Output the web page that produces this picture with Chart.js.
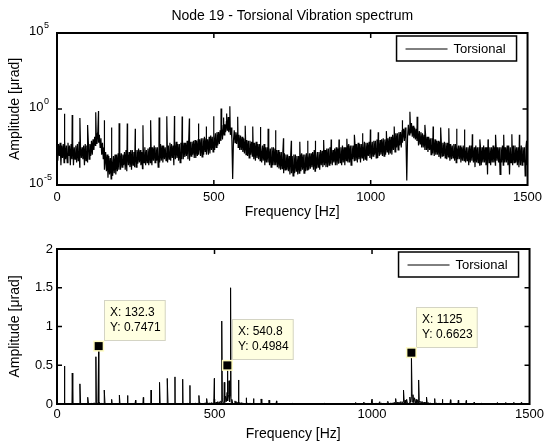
<!DOCTYPE html>
<html>
<head>
<meta charset="utf-8">
<script src="https://cdn.jsdelivr.net/npm/chart.js@4.4.0/dist/chart.umd.min.js"></script>
<style>
  html, body { margin: 0; padding: 0; background: #fff; }
  #wrap { position: relative; width: 547px; height: 446px; overflow: hidden; }
  #wrap canvas { position: absolute; left: 0; }
  #top-chart { top: 0; }
  #bottom-chart { top: 220px; }
</style>
</head>
<body>
<div id="wrap">
  <canvas id="top-chart" width="547" height="220"></canvas>
  <canvas id="bottom-chart" width="547" height="226"></canvas>
</div>
<script>
// --- data ---
const TITLE = 'Node 19 - Torsional Vibration spectrum';
const SERIES_LABEL = 'Torsional';

// broadband floor, one value every 2.5 Hz from 0 to 1500 Hz (amplitude in µrad)
const FLOOR_STEP_HZ = 2.5;
const floorAmp = [
  // 0
  3e-3, 4e-4, 5e-3, 8e-4, 6e-3, 2e-4, 4e-3, 6e-4, 5e-3, 3e-4, 8e-3, 5e-4, 4e-3, 3e-4, 6e-3, 8e-4, 4e-3, 2e-4, 5e-3, 5e-4,
  // 50
  6e-3, 2e-4, 3e-3, 5e-4, 4e-3, 3e-4, 5e-3, 4e-4, 7e-3, 1.5e-4, 3e-3, 6e-4, 3e-3, 5e-4, 4e-3, 2e-4, 5e-3, 4e-4, 4e-3, 3e-4,
  // 100
  6e-3, 5e-4, 5e-3, 8e-4, 8e-3, 1e-3, 1e-2, 2e-3, 1.5e-2, 4e-3, 2.5e-2, 5e-3, 3e-2, 6e-3, 2e-2, 3e-3, 1.2e-2, 1e-3, 6e-3, 5e-4,
  // 150
  3e-3, 1e-4, 1.5e-3, 8e-5, 1e-3, 3e-5, 8e-4, 5e-5, 6e-4, 2.5e-5, 8e-4, 4e-5, 8e-4, 6e-5, 1e-3, 5e-5, 1e-3, 8e-5, 1.2e-3, 1e-4,
  // 200
  1.5e-3, 1e-4, 1.2e-3, 1.5e-4, 1e-3, 2e-4, 1.5e-3, 1e-4, 2e-3, 8e-5, 1.2e-3, 2e-4, 1.5e-3, 1.5e-4, 2e-3, 1e-4, 2e-3, 2e-4, 1.5e-3, 1.5e-4,
  // 250
  2e-3, 1.5e-4, 2e-3, 2.5e-4, 2.5e-3, 3e-4, 2e-3, 2e-4, 1.5e-3, 1.2e-4, 2.5e-3, 3e-4, 3e-3, 2e-4, 2e-3, 3e-4, 2.5e-3, 2e-4, 3e-3, 3e-4,
  // 300
  3e-3, 2e-4, 3e-3, 4e-4, 4e-3, 3e-4, 3e-3, 4e-4, 3e-3, 1.5e-4, 4e-3, 3e-4, 5e-3, 4e-4, 4e-3, 3e-4, 4e-3, 5e-4, 3e-3, 4e-4,
  // 350
  5e-3, 3e-4, 4e-3, 5e-4, 6e-3, 4e-4, 5e-3, 6e-4, 4e-3, 2e-4, 6e-3, 5e-4, 7e-3, 6e-4, 5e-3, 4e-4, 5e-3, 3e-4, 6e-3, 5e-4,
  // 400
  8e-3, 5e-4, 6e-3, 7e-4, 6e-3, 8e-4, 8e-3, 5e-4, 1e-2, 4e-4, 7e-3, 8e-4, 7e-3, 1e-3, 8e-3, 6e-4, 9e-3, 6e-4, 8e-3, 8e-4,
  // 450
  1e-2, 1e-3, 1e-2, 8e-4, 1.2e-2, 7e-4, 1.2e-2, 1e-3, 1.5e-2, 1.5e-3, 1.2e-2, 1e-3, 1e-2, 1e-3, 1.5e-2, 1.2e-3, 1.8e-2, 2e-3, 1.5e-2, 1.5e-3,
  // 500
  2e-2, 2e-3, 2.5e-2, 3e-3, 3e-2, 4e-3, 3e-2, 5e-3, 4e-2, 8e-3, 5e-2, 1e-2, 0.08, 0.02, 0.1, 0.03, 0.15, 0.04, 0.12, 0.03,
  // 550
  0.1, 0.02, 0.06, 0.01, 2.5e-5, 8e-3, 4e-2, 6e-3, 3e-2, 5e-3, 2.5e-2, 3e-3, 2e-2, 2e-3, 1.8e-2, 2e-3, 1.5e-2, 1.5e-3, 1.2e-2, 1.2e-3,
  // 600
  1e-2, 1e-3, 9e-3, 8e-4, 8e-3, 6e-4, 8e-3, 1e-3, 7e-3, 8e-4, 6e-3, 5e-4, 6e-3, 4e-4, 7e-3, 6e-4, 5e-3, 5e-4, 5e-3, 4e-4,
  // 650
  4e-3, 3e-4, 4e-3, 4e-4, 5e-3, 2e-4, 3e-3, 3e-4, 3e-3, 3e-4, 3e-3, 2e-4, 2.5e-3, 1.5e-4, 3e-3, 2e-4, 3e-3, 2e-4, 2.5e-3, 2e-4,
  // 700
  2e-3, 1.5e-4, 2e-3, 1.2e-4, 1.5e-3, 1e-4, 1.5e-3, 1.2e-4, 1.5e-3, 6e-5, 1.2e-3, 1e-4, 1e-3, 1e-4, 1e-3, 8e-5, 8e-4, 5e-5, 1e-3, 6e-5,
  // 750
  8e-4, 4e-5, 1e-3, 6e-5, 1e-3, 8e-5, 8e-4, 5e-5, 8e-4, 6e-5, 1e-3, 8e-5, 1.2e-3, 1e-4, 1e-3, 6e-5, 1e-3, 8e-5, 1.2e-3, 1e-4,
  // 800
  1.5e-3, 1e-4, 1.2e-3, 1.2e-4, 1.2e-3, 1.5e-4, 1.5e-3, 1e-4, 2e-3, 8e-5, 1.5e-3, 1.2e-4, 1.5e-3, 1.5e-4, 1.5e-3, 1e-4, 2e-3, 2e-4, 1.8e-3, 1.5e-4,
  // 850
  2e-3, 2e-4, 2e-3, 1.5e-4, 2.5e-3, 1.5e-4, 2.5e-3, 2e-4, 3e-3, 2.5e-4, 2.5e-3, 2e-4, 2e-3, 3e-4, 2.5e-3, 2e-4, 3e-3, 2e-4, 2.5e-3, 2.5e-4,
  // 900
  3e-3, 3e-4, 3e-3, 2e-4, 4e-3, 3e-4, 3e-3, 2e-4, 3e-3, 4e-4, 4e-3, 3e-4, 5e-3, 3e-4, 4e-3, 2e-4, 4e-3, 5e-4, 4e-3, 4e-4,
  // 950
  5e-3, 4e-4, 5e-3, 3e-4, 6e-3, 5e-4, 5e-3, 3e-4, 5e-3, 6e-4, 6e-3, 4e-4, 7e-3, 5e-4, 6e-3, 4e-4, 6e-3, 8e-4, 7e-3, 6e-4,
  // 1000
  7e-3, 5e-4, 7e-3, 8e-4, 8e-3, 1e-3, 8e-3, 6e-4, 1e-2, 6e-4, 8e-3, 8e-4, 9e-3, 1e-3, 1e-2, 8e-4, 1.2e-2, 8e-4, 1e-2, 1e-3,
  // 1050
  1.2e-2, 1.5e-3, 1.2e-2, 1e-3, 1.5e-2, 1.2e-3, 1.5e-2, 1e-3, 2e-2, 2e-3, 2e-2, 1.5e-3, 2.5e-2, 3e-3, 2.5e-2, 2e-3, 3e-2, 4e-3, 3e-2, 3e-3,
  // 1100
  4e-2, 6e-3, 5e-2, 8e-3, 0.06, 1e-2, 2e-5, 1.5e-2, 0.09, 0.02, 0.1, 0.025, 0.12, 0.015, 0.08, 0.012, 0.06, 1e-2, 5e-2, 8e-3,
  // 1150
  4e-2, 4e-3, 3.5e-2, 5e-3, 3e-2, 3e-3, 2.5e-2, 3e-3, 2e-2, 2e-3, 2e-2, 2e-3, 1.5e-2, 1.5e-3, 1.5e-2, 2e-3, 1.2e-2, 1e-3, 1.2e-2, 1.2e-3,
  // 1200
  1e-2, 8e-4, 1e-2, 1e-3, 8e-3, 1e-3, 8e-3, 7e-4, 7e-3, 6e-4, 7e-3, 8e-4, 6e-3, 8e-4, 7e-3, 6e-4, 6e-3, 5e-4, 6e-3, 7e-4,
  // 1250
  5e-3, 4e-4, 5e-3, 5e-4, 4e-3, 6e-4, 5e-3, 4e-4, 5e-3, 3e-4, 4e-3, 5e-4, 4e-3, 5e-4, 4e-3, 3e-4, 3e-3, 4e-4, 4e-3, 4e-4,
  // 1300
  4e-3, 3e-4, 3e-3, 4e-4, 3e-3, 2e-4, 4e-3, 3e-4, 4e-3, 4e-4, 3e-3, 3e-4, 3e-3, 1.5e-4, 4e-3, 3e-4, 3e-3, 3e-4, 3e-3, 2e-4,
  // 1350
  3e-3, 2e-4, 3e-3, 3e-4, 4e-3, 3e-4, 3e-3, 2e-4, 3e-3, 5e-5, 4e-3, 3e-4, 3e-3, 2e-4, 3e-3, 3e-4, 4e-3, 3e-4, 3e-3, 2e-4,
  // 1400
  3e-3, 4e-4, 3e-3, 3e-4, 3e-3, 5e-5, 3e-3, 3e-4, 4e-3, 2e-4, 3e-3, 3e-4, 3e-3, 3e-4, 4e-3, 2e-4, 4e-3, 5e-5, 3e-3, 3e-4,
  // 1450
  3e-3, 2e-4, 4e-3, 3e-4, 4e-3, 3e-4, 3e-3, 2e-4, 3e-3, 1.5e-4, 3e-3, 2e-4, 4e-3, 2e-4, 3e-3, 3e-4, 3e-3, 4e-5, 3e-3, 2e-4,
  // 1500
  3e-3
];

// narrow harmonic lines (Hz, µrad)
const spikeFreq = [23.5, 48.5, 73, 97.5, 123.5, 132.3, 150, 173.5, 198, 224,
  249.5, 274, 298.5, 325.5, 350, 374.5, 399, 422, 450.5, 475,
  499.5, 523, 531, 540.8, 546, 551, 576, 600, 624, 648,
  673, 697, 722, 747, 774, 799, 823, 850, 874, 899,
  924, 948, 974, 999, 1024, 1050, 1075, 1100, 1125, 1148,
  1173, 1199, 1223, 1249, 1274, 1299, 1324, 1348, 1374, 1398,
  1424, 1450, 1474, 1497];
const spikeAmp = [0.49, 0.40, 0.26, 0.087, 0.61, 0.7471, 0.18, 0.06, 0.115, 0.11,
  0.05, 0.085, 0.18, 0.28, 0.33, 0.35, 0.32, 0.24, 0.11, 0.07,
  0.33, 1.07, 0.28, 0.4984, 0.3, 1.5, 0.31, 0.08, 0.07, 0.065,
  0.05, 0.04, 0.012, 0.008, 0.007, 0.008, 0.008, 0.009, 0.01, 0.01,
  0.011, 0.02, 0.025, 0.045, 0.03, 0.035, 0.07, 0.18, 0.6623, 0.31,
  0.09, 0.07, 0.06, 0.055, 0.05, 0.045, 0.022, 0.01, 0.01, 0.02,
  0.02, 0.022, 0.02, 0.008];

// data tips on the linear plot
const tipFreq = [132.3, 540.8, 1125];
const tipAmp = [0.7471, 0.4984, 0.6623];

// axis ticks
const freqTicks = [0, 500, 1000, 1500];
const logTicks = [1e-5, 1e0, 1e5];
const linTicks = [0, 0.5, 1, 1.5, 2];

// --- styling ---
const FONT = '"Liberation Sans", Arial, Helvetica, sans-serif';
const LABEL_SIZE = 14;
Chart.defaults.font.family = FONT;
Chart.defaults.font.size = 13;
Chart.defaults.color = '#000';
Chart.defaults.animation = false;

function spectrum() {
  const pts = floorAmp.map((a, i) => ({ x: i * FLOOR_STEP_HZ, y: a }));
  spikeFreq.forEach((f, i) => pts.push({ x: f, y: spikeAmp[i] }));
  return pts.sort((a, b) => a.x - b.x);
}

// title centred over the axes
const plotTitle = {
  id: 'plotTitle',
  afterDraw(chart, args, opts) {
    if (!opts.text) return;
    const { ctx, chartArea: a } = chart;
    ctx.save();
    ctx.font = LABEL_SIZE + 'px ' + FONT;
    ctx.fillStyle = '#000';
    ctx.textAlign = 'center';
    ctx.textBaseline = 'middle';
    ctx.fillText(opts.text, (a.left + a.right) / 2, opts.y);
    ctx.restore();
  }
};

// matlab style box with inward ticks
const axesBox = {
  id: 'axesBox',
  afterDatasetsDraw(chart) {
    const { ctx, chartArea: a } = chart;
    const xs = chart.scales.x, ys = chart.scales.y;
    ctx.save();
    ctx.strokeStyle = '#000';
    ctx.lineWidth = 1.5;
    ctx.beginPath();
    xs.ticks.filter(t => t.value > xs.min && t.value < xs.max).forEach(t => {
      const px = xs.getPixelForValue(t.value);
      ctx.moveTo(px, a.top); ctx.lineTo(px, a.top + 5);
      ctx.moveTo(px, a.bottom); ctx.lineTo(px, a.bottom - 5);
    });
    ys.ticks.filter(t => t.value > ys.min && t.value < ys.max).forEach(t => {
      const py = ys.getPixelForValue(t.value);
      ctx.moveTo(a.left, py); ctx.lineTo(a.left + 5, py);
      ctx.moveTo(a.right, py); ctx.lineTo(a.right - 5, py);
    });
    ctx.stroke();
    ctx.lineWidth = 2;
    ctx.strokeRect(a.left, a.top, a.right - a.left, a.bottom - a.top);
    ctx.restore();
  }
};

// 10^n labels for the log axis
const powerLabels = {
  id: 'powerLabels',
  afterDraw(chart) {
    const { ctx } = chart;
    const ys = chart.scales.y;
    ctx.save();
    ctx.fillStyle = '#000';
    ys.ticks.forEach(t => {
      const py = ys.getPixelForValue(t.value) - 1.5;
      const exp = String(Math.round(Math.log10(t.value)));
      ctx.font = '13px ' + FONT;
      ctx.textAlign = 'right';
      ctx.textBaseline = 'middle';
      ctx.fillText('10', 43.5, py);
      ctx.font = '9px ' + FONT;
      ctx.textAlign = 'left';
      ctx.textBaseline = 'alphabetic';
      ctx.fillText(exp, 44, py - 3.5);
    });
    ctx.restore();
  }
};

// boxed legend in the upper right corner
const boxLegend = {
  id: 'boxLegend',
  afterDraw(chart) {
    const { ctx, chartArea: a } = chart;
    const w = 120, h = 25;
    const bx = a.right - 11 - w, by = a.top + 3;
    ctx.save();
    ctx.fillStyle = '#fff';
    ctx.fillRect(bx, by, w, h);
    ctx.strokeStyle = '#000';
    ctx.lineWidth = 1.5;
    ctx.strokeRect(bx, by, w, h);
    ctx.lineWidth = 1;
    ctx.beginPath();
    ctx.moveTo(bx + 9, by + h / 2 + 0.5);
    ctx.lineTo(bx + 51, by + h / 2 + 0.5);
    ctx.stroke();
    ctx.font = '13px ' + FONT;
    ctx.fillStyle = '#000';
    ctx.textBaseline = 'middle';
    ctx.fillText(chart.data.datasets[0].label, bx + 57, by + h / 2 + 1);
    ctx.restore();
  }
};

// data cursor boxes
const dataTips = {
  id: 'dataTips',
  afterDraw(chart) {
    const { ctx } = chart;
    const xs = chart.scales.x, ys = chart.scales.y;
    ctx.save();
    ctx.font = '12px ' + FONT;
    tipFreq.forEach((f, i) => {
      const px = xs.getPixelForValue(f), py = ys.getPixelForValue(tipAmp[i]);
      const lines = ['X: ' + f, 'Y: ' + tipAmp[i]];
      const w = Math.max(...lines.map(l => ctx.measureText(l).width)) + 11;
      const h = 41;
      const bx = Math.round(px + 5), by = Math.round(py - 5 - h);
      ctx.fillStyle = '#ffffe1';
      ctx.fillRect(bx, by, w, h);
      ctx.strokeStyle = '#d4d4c4';
      ctx.lineWidth = 1;
      ctx.strokeRect(bx + 0.5, by + 0.5, w - 1, h - 1);
      ctx.fillStyle = '#000';
      ctx.textBaseline = 'middle';
      ctx.textAlign = 'left';
      ctx.fillText(lines[0], bx + 6, by + 13);
      ctx.fillText(lines[1], bx + 6, by + 28);
      ctx.fillStyle = '#fffcc0';
      ctx.fillRect(px - 5.5, py - 5.5, 11, 11);
      ctx.fillStyle = '#000';
      ctx.fillRect(px - 4, py - 4, 8, 8);
    });
    ctx.restore();
  }
};

const plainLabel = v => String(v);

function freqAxis(height, pad, titlePad) {
  return {
    type: 'linear', min: 0, max: 1500,
    grid: { display: false, drawTicks: false }, border: { display: false },
    afterBuildTicks: s => { s.ticks = freqTicks.map(v => ({ value: v })); },
    ticks: { padding: pad, maxRotation: 0, autoSkip: false, callback: plainLabel },
    title: { display: true, text: 'Frequency [Hz]', padding: { top: 0, bottom: titlePad }, font: { size: LABEL_SIZE, lineHeight: 1.1 } },
    afterFit: s => { s.height = height; }
  };
}

const ampTitle = { display: true, text: 'Amplitude [\u03bcrad]', padding: { top: 7, bottom: 0 }, font: { size: LABEL_SIZE, lineHeight: 1.1 } };

new Chart(document.getElementById('top-chart'), {
  type: 'line',
  data: { datasets: [{ label: SERIES_LABEL, data: spectrum(), borderColor: '#000', borderWidth: 1.2, pointRadius: 0, tension: 0 }] },
  options: {
    responsive: false,
    layout: { padding: { left: 0, right: 17, top: 33, bottom: 0 } },
    plugins: { legend: { display: false }, tooltip: { enabled: false }, plotTitle: { text: TITLE, y: 16 } },
    scales: {
      x: freqAxis(35, 5, 0),
      y: {
        type: 'logarithmic', min: 1e-5, max: 1e5,
        grid: { display: false, drawTicks: false }, border: { display: false },
        afterBuildTicks: s => { s.ticks = logTicks.map(v => ({ value: v })); },
        ticks: { display: false },
        title: ampTitle,
        afterFit: s => { s.width = 57; }
      }
    }
  },
  plugins: [axesBox, powerLabels, boxLegend, plotTitle]
});

new Chart(document.getElementById('bottom-chart'), {
  type: 'line',
  data: { datasets: [{ label: SERIES_LABEL, data: spectrum(), borderColor: '#000', borderWidth: 1, pointRadius: 0, tension: 0 }] },
  options: {
    responsive: false,
    layout: { padding: { left: 0, right: 17, top: 29, bottom: 0 } },
    plugins: { legend: { display: false }, tooltip: { enabled: false } },
    scales: {
      x: freqAxis(42, 3, 4),
      y: {
        type: 'linear', min: 0, max: 2,
        grid: { display: false, drawTicks: false }, border: { display: false },
        afterBuildTicks: s => { s.ticks = linTicks.map(v => ({ value: v })); },
        ticks: { padding: 4, callback: plainLabel },
        title: ampTitle,
        afterFit: s => { s.width = 57; }
      }
    }
  },
  plugins: [axesBox, boxLegend, dataTips]
});
</script>
</body>
</html>
